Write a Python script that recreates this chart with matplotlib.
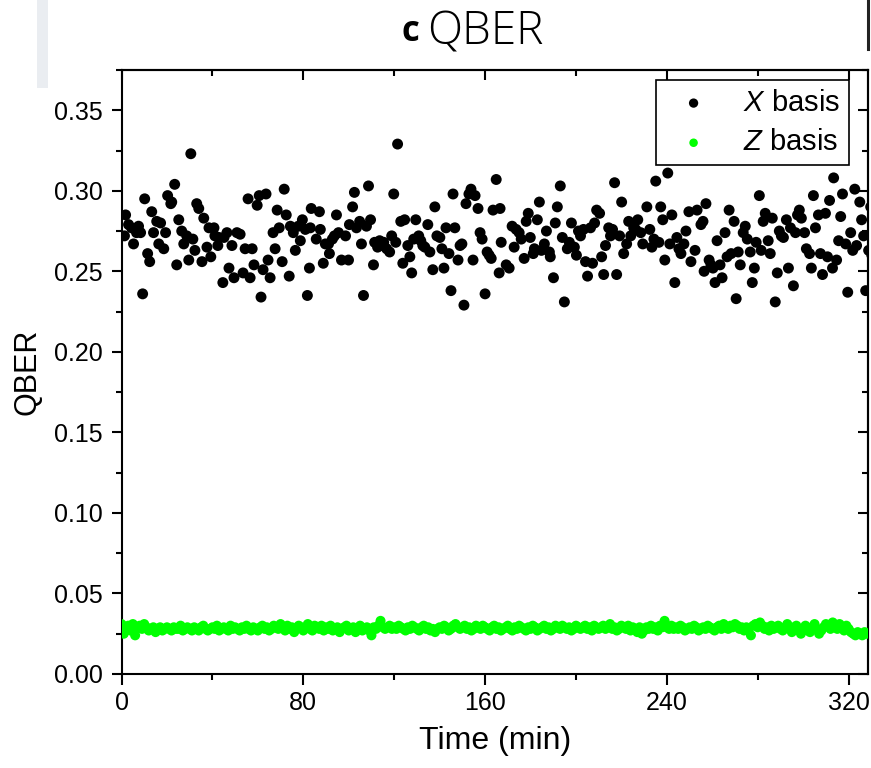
import numpy as np
import matplotlib.pyplot as plt
from matplotlib.patches import Rectangle
from matplotlib.lines import Line2D
from matplotlib.ticker import MultipleLocator, FormatStrFormatter

# --------------------------------------------------
# Fonts
# --------------------------------------------------

plt.rcParams['font.family'] = ['Liberation Sans', 'DejaVu Sans']
plt.rcParams['mathtext.fontset'] = 'custom'
plt.rcParams['mathtext.it'] = 'Liberation Sans:italic'
plt.rcParams['mathtext.rm'] = 'Liberation Sans'

# --------------------------------------------------
# Data
# --------------------------------------------------

# X basis: time (min) and QBER
x_time = [
    1.3, 1.8, 3.1, 4.4, 5.3, 6.6, 7.5, 8.4, 9.3, 10.2,
    11.5, 12.4, 13.3, 14.1, 15.5, 16.4, 17.2, 18.6, 19.4, 20.3,
    21.7, 22.1, 23.4, 24.3, 25.2, 26.5, 27.4, 28.7, 29.6, 30.5,
    31.4, 32.3, 33.1, 34.0, 35.4, 36.2, 37.6, 38.5, 39.3, 40.7,
    41.1, 42.4, 42.9, 44.6, 45.1, 46.4, 47.3, 48.6, 49.5, 50.8,
    52.2, 53.5, 54.4, 55.7, 56.6, 57.5, 58.3, 59.7, 60.6, 61.4,
    62.3, 63.6, 64.5, 65.4, 66.7, 67.6, 68.5, 69.4, 70.7, 71.6,
    72.5, 73.8, 74.3, 75.6, 76.5, 77.8, 78.7, 79.6, 80.9, 81.8,
    82.7, 83.1, 83.5,
    85.7, 87.1, 87.5, 88.8, 89.7, 91.1, 91.5, 92.8, 93.7, 94.6,
    95.5, 96.8, 98.6, 99.9, 100.3, 101.7, 102.5, 103.4, 104.8, 105.6,
    106.5, 107.8, 108.7, 109.6, 110.9, 111.4, 112.7, 113.6, 114.5, 115.4,
    116.7, 118.0, 118.9, 119.8, 120.7, 121.5, 122.9, 123.8, 124.6, 126.0,
    126.9, 127.7, 128.6, 129.5, 130.8, 131.7, 132.6, 133.5, 134.8, 135.7,
    137.0, 137.9, 138.8, 140.1, 141.0, 141.9, 142.8, 144.1, 145.0, 145.9,
    146.7, 148.1, 149.0, 149.8, 150.7, 151.6, 152.9, 153.8, 154.7, 155.6,
    156.9, 157.8, 158.7, 160.0, 160.9, 161.8, 162.7, 163.5, 164.9, 166.2,
    166.6, 167.1,
    169.3, 170.6, 171.9, 172.8, 173.7, 175.0, 175.9, 177.2, 178.1, 179.0,
    179.9, 181.2, 181.7, 183.0, 183.9, 184.8, 186.1, 187.0, 188.3, 188.7,
    190.1, 190.9, 191.8, 193.1, 194.0, 194.9, 196.2, 197.1, 198.0, 199.3,
    200.2, 201.1, 202.0, 203.3, 204.2, 205.1, 206.4, 207.3, 208.2, 209.1,
    210.4, 211.3, 212.2, 213.0, 214.4, 215.2, 216.1, 217.0, 217.9, 219.2,
    220.1, 221.0, 222.3, 223.2, 224.1, 225.4, 226.3, 227.2, 228.5, 229.4,
    231.2, 232.5, 233.4, 234.3, 235.1, 236.5, 237.3, 238.2, 239.1, 240.4,
    241.3, 242.2, 243.5, 244.4, 245.3, 246.2, 247.5, 248.4, 249.7, 250.6,
    252.4, 253.3, 255.0, 255.9, 256.4, 257.2, 258.6, 259.4, 260.3, 261.2,
    262.1, 263.4, 264.3, 265.6, 266.5, 267.4, 268.3, 269.6, 270.5, 271.4,
    272.3, 273.6, 274.5, 275.4, 276.7, 277.6, 278.5, 279.3, 280.7, 281.5,
    282.4, 283.3, 284.6, 285.5, 286.4, 287.7, 288.6, 289.5, 290.4, 291.3,
    292.6, 293.5, 294.4, 295.7, 296.6, 297.5, 298.3, 299.2, 300.6, 301.4,
    302.8, 303.6, 304.5, 305.4, 306.7, 307.6, 308.5, 309.8, 310.7, 311.6,
    312.9, 313.4, 314.7, 315.6, 316.5, 317.3, 318.7, 319.6, 320.9, 321.8,
    322.7, 323.5, 324.9, 325.7, 326.6, 327.5, 328.8, 329.7, 330.2,
]

x_qber = [
    0.272, 0.285, 0.279, 0.277, 0.267, 0.274, 0.278, 0.274, 0.236, 0.295,
    0.261, 0.256, 0.287, 0.274, 0.281, 0.267, 0.280, 0.264, 0.274, 0.297,
    0.292, 0.293, 0.304, 0.254, 0.282, 0.275, 0.267, 0.272, 0.257, 0.323,
    0.270, 0.263, 0.292, 0.289, 0.256, 0.283, 0.265, 0.277, 0.259, 0.277,
    0.272, 0.266, 0.271, 0.243, 0.271, 0.274, 0.252, 0.266, 0.246, 0.274,
    0.273, 0.249, 0.264, 0.295, 0.246, 0.264, 0.254, 0.291, 0.297, 0.234,
    0.251, 0.298, 0.257, 0.246, 0.274, 0.264, 0.288, 0.277, 0.256, 0.301,
    0.285, 0.247, 0.278, 0.274, 0.263, 0.278, 0.269, 0.282, 0.276, 0.235,
    0.252, 0.277, 0.289,
    0.270, 0.287, 0.276, 0.255, 0.267, 0.267, 0.261, 0.270, 0.272, 0.285,
    0.274, 0.257, 0.272, 0.257, 0.279, 0.290, 0.299, 0.277, 0.281, 0.267,
    0.235, 0.278, 0.303, 0.282, 0.254, 0.268, 0.265, 0.269, 0.266, 0.268,
    0.264, 0.262, 0.272, 0.298, 0.268, 0.329, 0.281, 0.255, 0.282, 0.266,
    0.259, 0.249, 0.270, 0.282, 0.272, 0.269, 0.266, 0.265, 0.279, 0.262,
    0.251, 0.290, 0.272, 0.271, 0.264, 0.252, 0.277, 0.261, 0.238, 0.298,
    0.277, 0.257, 0.266, 0.267, 0.229, 0.292, 0.298, 0.301, 0.257, 0.297,
    0.289, 0.274, 0.270, 0.236, 0.262, 0.260, 0.258, 0.288, 0.307, 0.249,
    0.289, 0.268,
    0.254, 0.252, 0.278, 0.265, 0.276, 0.274, 0.270, 0.258, 0.281, 0.286,
    0.271, 0.261, 0.264, 0.282, 0.293, 0.263, 0.267, 0.275, 0.262, 0.259,
    0.246, 0.280, 0.290, 0.303, 0.271, 0.231, 0.264, 0.268, 0.280, 0.265,
    0.260, 0.275, 0.272, 0.276, 0.256, 0.247, 0.277, 0.255, 0.280, 0.288,
    0.286, 0.259, 0.248, 0.266, 0.277, 0.272, 0.276, 0.305, 0.248, 0.272,
    0.293, 0.261, 0.267, 0.281, 0.272, 0.277, 0.276, 0.282, 0.274, 0.267,
    0.290, 0.276, 0.265, 0.270, 0.306, 0.268, 0.290, 0.282, 0.257, 0.311,
    0.267, 0.285, 0.243, 0.271, 0.264, 0.261, 0.267, 0.275, 0.287, 0.256,
    0.263, 0.288, 0.279, 0.281, 0.250, 0.292, 0.257, 0.254, 0.252, 0.243,
    0.269, 0.254, 0.246, 0.274, 0.259, 0.288, 0.261, 0.281, 0.233, 0.262,
    0.254, 0.274, 0.278, 0.270, 0.262, 0.243, 0.252, 0.268, 0.297, 0.263,
    0.281, 0.286, 0.269, 0.261, 0.283, 0.231, 0.249, 0.275, 0.272, 0.271,
    0.282, 0.252, 0.277, 0.241, 0.274, 0.285, 0.288, 0.283, 0.274, 0.264,
    0.261, 0.252, 0.297, 0.277, 0.285, 0.261, 0.248, 0.286, 0.259, 0.294,
    0.252, 0.308, 0.257, 0.269, 0.284, 0.298, 0.267, 0.237, 0.274, 0.263,
    0.301, 0.266, 0.293, 0.282, 0.272, 0.238, 0.263, 0.290, 0.260,
]

# Z basis: one point per minute starting at t = 0
z_qber = [
    0.031, 0.025, 0.029, 0.030, 0.027, 0.031, 0.024, 0.029, 0.030, 0.028,
    0.031, 0.029, 0.027, 0.028, 0.029, 0.026, 0.028, 0.029, 0.027, 0.028,
    0.029, 0.028, 0.027, 0.029, 0.028, 0.028, 0.030, 0.027, 0.028, 0.029,
    0.028, 0.027, 0.029, 0.028, 0.027, 0.029, 0.030, 0.028, 0.027, 0.028,
    0.029, 0.028, 0.030, 0.027, 0.028, 0.029, 0.028, 0.027, 0.030, 0.028,
    0.029, 0.028, 0.027, 0.029, 0.028, 0.030, 0.028, 0.027, 0.029, 0.028,
    0.027, 0.029, 0.030, 0.028, 0.029, 0.027, 0.028, 0.030, 0.029, 0.028,
    0.031, 0.029, 0.027, 0.030, 0.028, 0.029, 0.026, 0.028, 0.030, 0.029,
    0.027, 0.029, 0.031, 0.028, 0.027, 0.030, 0.029, 0.028, 0.030, 0.027,
    0.029, 0.028, 0.030, 0.027, 0.028, 0.029, 0.026, 0.028, 0.029, 0.030,
    0.027, 0.028, 0.029, 0.026, 0.028, 0.030, 0.027, 0.028, 0.029, 0.027,
    0.024, 0.029, 0.028, 0.030, 0.033, 0.029, 0.028, 0.029, 0.030, 0.028,
    0.029, 0.028, 0.030, 0.029, 0.028, 0.027, 0.029, 0.028, 0.030, 0.029,
    0.028, 0.027, 0.029, 0.030, 0.028, 0.029, 0.027, 0.028, 0.026, 0.028,
    0.029, 0.028, 0.030, 0.029, 0.027, 0.028, 0.030, 0.031, 0.029, 0.028,
    0.029, 0.030, 0.028, 0.029, 0.027, 0.028, 0.030, 0.029, 0.028, 0.030,
    0.029, 0.028, 0.027, 0.029, 0.030, 0.028, 0.029, 0.027, 0.028, 0.029,
    0.030, 0.028, 0.027, 0.029, 0.028, 0.030, 0.029, 0.028, 0.027, 0.029,
    0.028, 0.030, 0.029, 0.027, 0.028, 0.029, 0.030, 0.028, 0.029, 0.027,
    0.028, 0.030, 0.029, 0.028, 0.030, 0.029, 0.028, 0.029, 0.027, 0.028,
    0.030, 0.029, 0.028, 0.029, 0.030, 0.028, 0.029, 0.027, 0.030, 0.029,
    0.028, 0.029, 0.030, 0.028, 0.029, 0.031, 0.028, 0.029, 0.027, 0.028,
    0.030, 0.029, 0.028, 0.030, 0.027, 0.029, 0.028, 0.026, 0.029, 0.025,
    0.027, 0.029, 0.028, 0.030, 0.028, 0.029, 0.027, 0.030, 0.029, 0.033,
    0.029, 0.028, 0.030, 0.028, 0.029, 0.028, 0.030, 0.029, 0.027, 0.028,
    0.029, 0.028, 0.030, 0.029, 0.027, 0.028, 0.029, 0.028, 0.030, 0.029,
    0.028, 0.027, 0.029, 0.030, 0.028, 0.031, 0.029, 0.028, 0.030, 0.029,
    0.031, 0.030, 0.028, 0.029, 0.027, 0.029, 0.028, 0.024, 0.030, 0.031,
    0.029, 0.032, 0.030, 0.028, 0.029, 0.027, 0.030, 0.028, 0.029, 0.030,
    0.028, 0.027, 0.029, 0.031, 0.028, 0.026, 0.029, 0.030, 0.027, 0.025,
    0.028, 0.030, 0.027, 0.026, 0.029, 0.031, 0.028, 0.025, 0.027, 0.029,
    0.031, 0.030, 0.028, 0.032, 0.030, 0.028, 0.031, 0.029, 0.027, 0.030,
    0.028, 0.026, 0.025, 0.024, 0.026, 0.025, 0.024, 0.026, 0.025,
]
z_time = np.arange(len(z_qber))

x_ticks = [0, 80, 160, 240, 320]
y_ticks = [0.00, 0.05, 0.10, 0.15, 0.20, 0.25, 0.30, 0.35]

# --------------------------------------------------
# Figure
# --------------------------------------------------

fig = plt.figure(figsize=(8.71, 7.68), dpi=100)
ax = fig.add_axes([0.1395, 0.1224, 0.857, 0.7865])

ax.scatter(x_time, x_qber, s=62, c='black', edgecolors='none',
           label='$X$ basis', zorder=3)
ax.scatter(z_time, z_qber, s=52, c='#00ff00', edgecolors='none',
           label='$Z$ basis', zorder=3)

ax.set_xlim(0, 328.5)
ax.set_ylim(0, 0.375)

ax.set_xticks(x_ticks)
ax.set_yticks(y_ticks)
ax.xaxis.set_minor_locator(MultipleLocator(40))
ax.yaxis.set_minor_locator(MultipleLocator(0.025))
ax.yaxis.set_major_formatter(FormatStrFormatter('%.2f'))

for side in ax.spines.values():
    side.set_linewidth(1.5)

ax.tick_params(which='both', direction='out', width=1.5, labelsize=18,
               top=False, right=False)
ax.tick_params(axis='y', which='major', length=7.5, pad=6)
ax.tick_params(axis='x', which='major', length=8, pad=4)
ax.tick_params(which='minor', length=4)

# inward ticks on the top and right sides
top = ax.secondary_xaxis('top')
top.set_xticks(x_ticks)
top.xaxis.set_minor_locator(MultipleLocator(40))
top.tick_params(which='both', direction='in', width=1.5, labeltop=False)
top.tick_params(which='major', length=7.5)
top.tick_params(which='minor', length=4)
top.spines['top'].set_linewidth(1.5)

right = ax.secondary_yaxis('right')
right.set_yticks(y_ticks)
right.yaxis.set_minor_locator(MultipleLocator(0.025))
right.tick_params(which='both', direction='in', width=1.5, labelright=False)
right.tick_params(which='major', length=7.5)
right.tick_params(which='minor', length=4)
right.spines['right'].set_linewidth(1.5)

ax.set_xlabel('Time (min)', fontsize=23, labelpad=8)
ax.set_ylabel('QBER', fontsize=22, labelpad=8)

leg = ax.legend(loc='upper right', bbox_to_anchor=(0.9745, 0.9834),
                borderaxespad=0, fontsize=21, frameon=True, fancybox=False,
                framealpha=1, edgecolor='black', scatterpoints=1,
                markerscale=0.85, handletextpad=0.7, handlelength=2.0,
                borderpad=0.3, labelspacing=0.4, alignment='right')
leg.get_frame().set_linewidth(1.2)

# --------------------------------------------------
# Title and page decorations
# --------------------------------------------------

fig.text(0.4615, 0.958, 'c', fontsize=25, fontweight='bold',
         family=['Open Sans', 'DejaVu Sans'], ha='left', va='center')
fig.text(0.4905, 0.958, 'QBER', fontsize=33, fontweight='light',
         family=['Open Sans', 'DejaVu Sans'], ha='left', va='center')

fig.patches.append(Rectangle((37 / 871, 1 - 88 / 768), 11 / 871, 88 / 768,
                             transform=fig.transFigure, facecolor='#eaedf1',
                             edgecolor='none'))
fig.lines.append(Line2D([867.5 / 871, 867.5 / 871], [1.0, 1 - 49 / 768],
                        transform=fig.transFigure, color='#222222',
                        linewidth=2.2))

fig.savefig('out.png', dpi=100)
